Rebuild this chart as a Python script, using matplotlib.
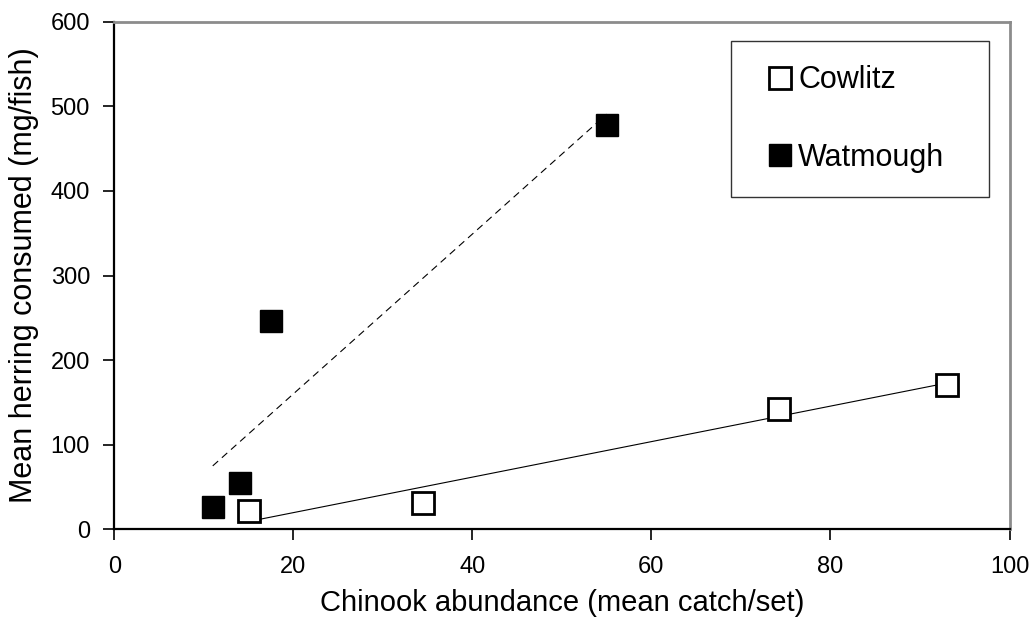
import matplotlib.pyplot as plt
import numpy as np

plt.rcParams['font.family'] = ['Liberation Sans', 'DejaVu Sans']

# Chinook abundance (mean catch/set) vs mean herring consumed (mg/fish)
cowlitz_x = [15.0, 34.5, 74.3, 93.0]
cowlitz_y = [21, 31, 142, 171]
watmough_x = [11.0, 14.0, 17.5, 55.0]
watmough_y = [26, 55, 246, 478]

x_ticks = [0, 20, 40, 60, 80, 100]
y_ticks = [0, 100, 200, 300, 400, 500, 600]

fig = plt.figure(figsize=(10.35, 6.21), dpi=100)
ax = fig.add_axes([0.1104, 0.1481, 0.8650, 0.8165])

# linear trend lines over each site's range
fit_c = np.polyfit(cowlitz_x, cowlitz_y, 1)
xc = np.array([min(cowlitz_x), max(cowlitz_x)])
ax.plot(xc, np.polyval(fit_c, xc), color='black', lw=0.8, zorder=2)

fit_w = np.polyfit(watmough_x, watmough_y, 1)
xw = np.array([min(watmough_x), max(watmough_x)])
ax.plot(xw, np.polyval(fit_w, xw), color='black', lw=0.8,
        dashes=(6.5, 4.5), zorder=2)

ax.plot(cowlitz_x, cowlitz_y, ls='none', marker='s', ms=16.5,
        mfc='white', mec='black', mew=2.0, zorder=3, label='Cowlitz')
ax.plot(watmough_x, watmough_y, ls='none', marker='s', ms=16.5,
        mfc='black', mec='black', mew=1.0, zorder=3, label='Watmough')

ax.set_xlim(0, 100)
ax.set_ylim(0, 600)
ax.set_xticks(x_ticks)
ax.set_yticks(y_ticks)
ax.tick_params(direction='out', length=8, width=1.2, labelsize=17,
               pad=9.5, colors='black')
ax.tick_params(axis='x', pad=11.5)

for side in ['left', 'bottom']:
    ax.spines[side].set_color('black')
    ax.spines[side].set_linewidth(1.6)
for side in ['top', 'right']:
    ax.spines[side].set_color('#8c8c8c')
    ax.spines[side].set_linewidth(2.0)

ax.set_xlabel('Chinook abundance (mean catch/set)', fontsize=21, labelpad=8)
ax.set_ylabel('Mean herring consumed (mg/fish)', fontsize=22, labelpad=8)

leg = ax.legend(loc='upper left', bbox_to_anchor=(0.689, 0.9625, 0.288, 0.0),
                mode='expand', fontsize=22, frameon=True, fancybox=False,
                edgecolor='black', borderpad=0.8, labelspacing=1.55,
                handlelength=1.6, handletextpad=-0.2, markerscale=0.92,
                borderaxespad=0)
leg.get_frame().set_linewidth(1.0)

fig.savefig('out.png', dpi=100)
